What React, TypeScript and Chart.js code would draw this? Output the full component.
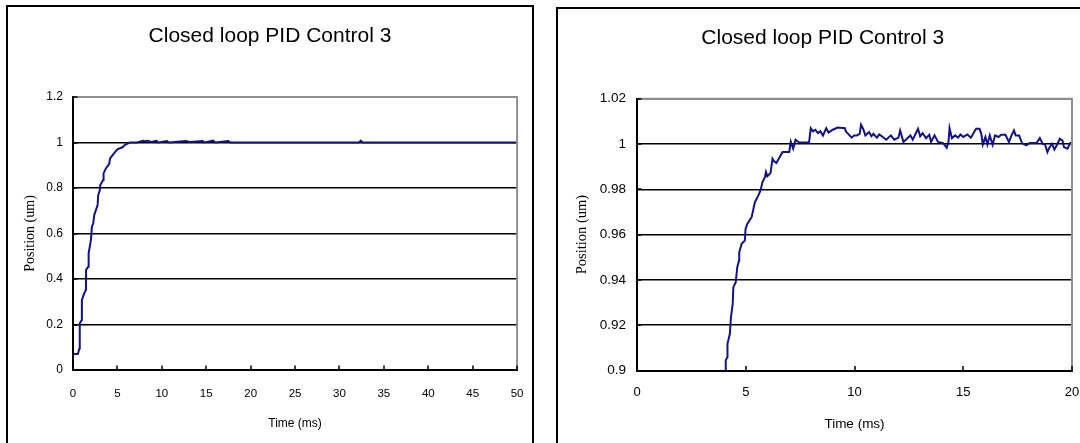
import React, { useEffect, useRef } from "react";
import { Chart, registerables } from "chart.js";

Chart.register(...registerables);

const CHART_TITLE = "Closed loop PID Control 3";
const X_TITLE = "Time (ms)";
const Y_TITLE = "Position (um)";

// Left chart: full response 0..50 ms
const leftTime = [0.1, 0.55, 0.72, 0.76, 0.99, 1.0, 1.26, 1.46, 1.47, 1.72, 1.76, 2.02, 2.13, 2.28, 2.39, 2.77, 2.84, 3.03, 3.07, 3.4, 3.44, 3.7, 4.07, 4.18, 4.52, 5.0, 5.56, 5.86, 6.39, 7.2, 7.9, 8.1, 8.4, 8.8, 9.4, 9.6, 10.6, 10.8, 12.7, 13.1, 14.6, 14.8, 15.8, 16.0, 17.5, 17.7, 25, 32.2, 32.4, 32.6, 40, 50];
const leftPos = [0.07, 0.07, 0.095, 0.205, 0.22, 0.308, 0.337, 0.352, 0.44, 0.454, 0.513, 0.572, 0.63, 0.645, 0.681, 0.725, 0.769, 0.791, 0.813, 0.835, 0.864, 0.886, 0.905, 0.93, 0.948, 0.97, 0.979, 0.99, 1.0, 1.0, 1.008, 1.006, 1.008, 1.002, 1.007, 1.0, 1.006, 1.0, 1.007, 1.002, 1.006, 1.0, 1.008, 1.0, 1.006, 1.0, 1.0, 1.0, 1.008, 1.0, 1.0, 1.0];
const leftXTicks = [0, 5, 10, 15, 20, 25, 30, 35, 40, 45, 50];
const leftYTicks = [0, 0.2, 0.4, 0.6, 0.8, 1, 1.2];

// Right chart: zoom on 0.9..1.02
const rightTime = [4.07, 4.08, 4.15, 4.16, 4.27, 4.32, 4.40, 4.43, 4.54, 4.61, 4.69, 4.70, 4.81, 4.96, 4.99, 5.07, 5.27, 5.42, 5.58, 5.68, 5.77, 5.88, 5.93, 5.99, 6.14, 6.23, 6.29, 6.41, 6.69, 7.00, 7.07, 7.18, 7.29, 7.45, 7.91, 7.99, 8.09, 8.20, 8.32, 8.43, 8.55, 8.70, 8.81, 9.00, 9.23, 9.56, 9.6, 9.87, 9.98, 10.1, 10.24, 10.3, 10.4, 10.5, 10.67, 10.78, 10.87, 11.03, 11.14, 11.3, 11.46, 11.67, 11.83, 12.02, 12.1, 12.25, 12.41, 12.57, 12.68, 12.81, 12.92, 13.02, 13.13, 13.29, 13.44, 13.52, 13.68, 13.84, 14.08, 14.24, 14.32, 14.37, 14.48, 14.63, 14.76, 14.87, 15.0, 15.19, 15.35, 15.59, 15.75, 15.83, 15.9, 16.02, 16.11, 16.22, 16.35, 16.46, 16.62, 16.75, 16.94, 17.1, 17.22, 17.33, 17.41, 17.57, 17.7, 17.89, 18.05, 18.37, 18.52, 18.65, 18.76, 18.87, 18.97, 19.08, 19.19, 19.32, 19.44, 19.56, 19.63, 19.79, 19.92, 20.08];
const rightPos = [0.897, 0.9044, 0.9059, 0.9118, 0.9162, 0.9236, 0.9294, 0.9368, 0.939, 0.9456, 0.9486, 0.9522, 0.9559, 0.9574, 0.9625, 0.9647, 0.9677, 0.9743, 0.9773, 0.9795, 0.9832, 0.9854, 0.9876, 0.9857, 0.9872, 0.9935, 0.9925, 0.9916, 0.9965, 0.9965, 1.001, 0.998, 1.0019, 1.0007, 1.0007, 1.007, 1.0056, 1.0063, 1.0048, 1.0056, 1.0037, 1.007, 1.0051, 1.0063, 1.0073, 1.007, 1.0056, 1.0028, 1.0038, 1.0038, 1.0045, 1.0085, 1.0067, 1.0038, 1.0053, 1.0034, 1.0045, 1.0028, 1.0042, 1.0031, 1.0019, 1.0038, 1.0019, 1.0028, 1.006, 1.0009, 1.0023, 1.0038, 1.0019, 1.0045, 1.0067, 1.0034, 1.0048, 1.0026, 1.0041, 1.0009, 1.0038, 1.0009, 1.0004, 0.9983, 1.0009, 1.007, 1.0026, 1.0038, 1.0028, 1.0042, 1.0031, 1.0042, 1.0028, 1.0067, 1.0067, 1.0045, 0.9998, 1.0031, 0.9998, 1.0038, 0.9997, 1.0038, 1.0031, 1.0041, 1.0041, 1.0009, 1.0038, 1.006, 1.0038, 1.0038, 1.0004, 0.9994, 1.0004, 1.0004, 1.0026, 1.0001, 0.9998, 0.9964, 0.9986, 1.0001, 0.9976, 0.9998, 1.0023, 1.0016, 0.9986, 0.9979, 1.0004, 1.0004];
const rightXTicks = [0, 5, 10, 15, 20];
const rightYTicks = [0.9, 0.92, 0.94, 0.96, 0.98, 1, 1.02];

const LINE_COLOR = "#12128a";
const SANS = "'Liberation Sans', Arial, sans-serif";
const SERIF = "'Liberation Serif', 'Times New Roman', serif";

const framePlugin = {
  id: "excelFrame",
  afterDraw(chart: any) {
    const { ctx, chartArea: a, scales } = chart;
    ctx.save();
    ctx.strokeStyle = "#8f8f8f";
    ctx.lineWidth = 2;
    ctx.beginPath();
    ctx.moveTo(a.left, a.top);
    ctx.lineTo(a.right, a.top);
    ctx.lineTo(a.right, a.bottom);
    ctx.stroke();
    ctx.strokeStyle = "#000";
    ctx.lineWidth = 1.5;
    ctx.beginPath();
    for (const t of scales.x.ticks) {
      const px = Math.round(scales.x.getPixelForValue(t.value));
      ctx.moveTo(px, a.bottom);
      ctx.lineTo(px, a.bottom - 4.5);
    }
    for (const t of scales.y.ticks) {
      const py = Math.round(scales.y.getPixelForValue(t.value));
      ctx.moveTo(a.left, py);
      ctx.lineTo(a.left + 4.5, py);
    }
    ctx.stroke();
    ctx.restore();
  },
};

type Cfg = {
  time: number[];
  pos: number[];
  xTicks: number[];
  yTicks: number[];
  width: number;
  height: number;
  padLeft: number;
  padRight: number;
  yAxisWidth: number;
  xAxisHeight: number;
  titleTop: number;
  titleBottom: number;
  xTickSize: number;
  yTickSize: number;
  xTickPad: number;
  yTickPad: number;
  xTitleSize: number;
  xTitlePad: number;
  yTitleSize: number;
  yTitlePad: number;
};

const fmt = (v: number) => String(+Number(v).toFixed(3));

function PidChart({ cfg, left }: { cfg: Cfg; left: number }) {
  const ref = useRef<HTMLCanvasElement | null>(null);
  useEffect(() => {
    if (!ref.current) return;
    const data = cfg.time.map((t, i) => ({ x: t, y: cfg.pos[i] }));
    const chart = new Chart(ref.current, {
      type: "line",
      data: {
        datasets: [
          {
            data,
            borderColor: LINE_COLOR,
            borderWidth: 2,
            pointRadius: 0,
            tension: 0,
            fill: false,
          },
        ],
      },
      options: {
        animation: false,
        responsive: false,
        devicePixelRatio: 1,
        layout: { padding: { left: cfg.padLeft, right: cfg.padRight, top: 0, bottom: 0 } },
        plugins: {
          legend: { display: false },
          tooltip: { enabled: false },
          title: {
            display: true,
            text: CHART_TITLE,
            color: "#000",
            font: { family: SANS, size: 21, weight: "normal" as any },
            padding: { top: cfg.titleTop, bottom: cfg.titleBottom },
          },
        },
        scales: {
          x: {
            type: "linear",
            position: "bottom",
            min: cfg.xTicks[0],
            max: cfg.xTicks[cfg.xTicks.length - 1],
            afterBuildTicks: (s: any) => {
              s.ticks = cfg.xTicks.map((v) => ({ value: v }));
            },
            afterFit: (s: any) => {
              s.height = cfg.xAxisHeight;
            },
            grid: { display: false, drawTicks: false },
            border: { display: true, color: "#000", width: 2 },
            ticks: {
              color: "#000",
              font: { family: SANS, size: cfg.xTickSize },
              padding: cfg.xTickPad,
              maxRotation: 0,
              autoSkip: false,
              callback: (v: any) => fmt(v),
            },
            title: {
              display: true,
              text: X_TITLE,
              color: "#000",
              font: { family: SANS, size: cfg.xTitleSize },
              padding: { top: 0, bottom: cfg.xTitlePad },
            },
          },
          y: {
            type: "linear",
            min: cfg.yTicks[0],
            max: cfg.yTicks[cfg.yTicks.length - 1],
            afterBuildTicks: (s: any) => {
              s.ticks = cfg.yTicks.map((v) => ({ value: v }));
            },
            afterFit: (s: any) => {
              s.width = cfg.yAxisWidth;
            },
            grid: { color: "#000", lineWidth: 1.5, drawTicks: false },
            border: { display: true, color: "#000", width: 2 },
            ticks: {
              color: "#000",
              font: { family: SANS, size: cfg.yTickSize },
              padding: cfg.yTickPad,
              autoSkip: false,
              callback: (v: any) => fmt(v),
            },
            title: {
              display: true,
              text: Y_TITLE,
              color: "#000",
              font: { family: SERIF, size: cfg.yTitleSize },
              padding: { top: cfg.yTitlePad, bottom: 0 },
            },
          },
        },
      },
      plugins: [framePlugin],
    } as any);
    return () => chart.destroy();
  }, [cfg]);
  return (
    <canvas
      ref={ref}
      width={cfg.width}
      height={cfg.height}
      style={{ position: "absolute", left, top: 0, width: cfg.width, height: cfg.height }}
    />
  );
}

const leftCfg: Cfg = {
  time: leftTime,
  pos: leftPos,
  xTicks: leftXTicks,
  yTicks: leftYTicks,
  width: 540,
  height: 443,
  padLeft: 21,
  padRight: 21,
  yAxisWidth: 52,
  xAxisHeight: 73,
  titleTop: 23.4,
  titleBottom: 48.4,
  xTickSize: 11.5,
  yTickSize: 12,
  xTickPad: 16.5,
  yTickPad: 10,
  xTitleSize: 12,
  xTitlePad: 11.8,
  yTitleSize: 14,
  yTitlePad: 0.6,
};

const rightCfg: Cfg = {
  time: rightTime,
  pos: rightPos,
  xTicks: rightXTicks,
  yTicks: rightYTicks,
  width: 600,
  height: 443,
  padLeft: 33.4,
  padRight: 68,
  yAxisWidth: 63.6,
  xAxisHeight: 72.5,
  titleTop: 25.4,
  titleBottom: 48.1,
  xTickSize: 13,
  yTickSize: 13.5,
  xTickPad: 14.5,
  yTickPad: 11,
  xTitleSize: 13.5,
  xTitlePad: 10.9,
  yTitleSize: 14.5,
  yTitlePad: 0.4,
};

export default function App() {
  return (
    <div
      style={{
        position: "absolute",
        left: 0,
        top: 0,
        width: 1080,
        height: 443,
        overflow: "hidden",
        background: "#fff",
      }}
    >
      <PidChart cfg={leftCfg} left={0} />
      <PidChart cfg={rightCfg} left={540} />
      <div
        style={{
          position: "absolute",
          left: 6,
          top: 5,
          width: 528,
          height: 470,
          border: "2px solid #000",
          boxSizing: "border-box",
          pointerEvents: "none",
        }}
      />
      <div
        style={{
          position: "absolute",
          left: 556,
          top: 7,
          width: 534,
          height: 470,
          border: "2px solid #000",
          boxSizing: "border-box",
          pointerEvents: "none",
        }}
      />
    </div>
  );
}
